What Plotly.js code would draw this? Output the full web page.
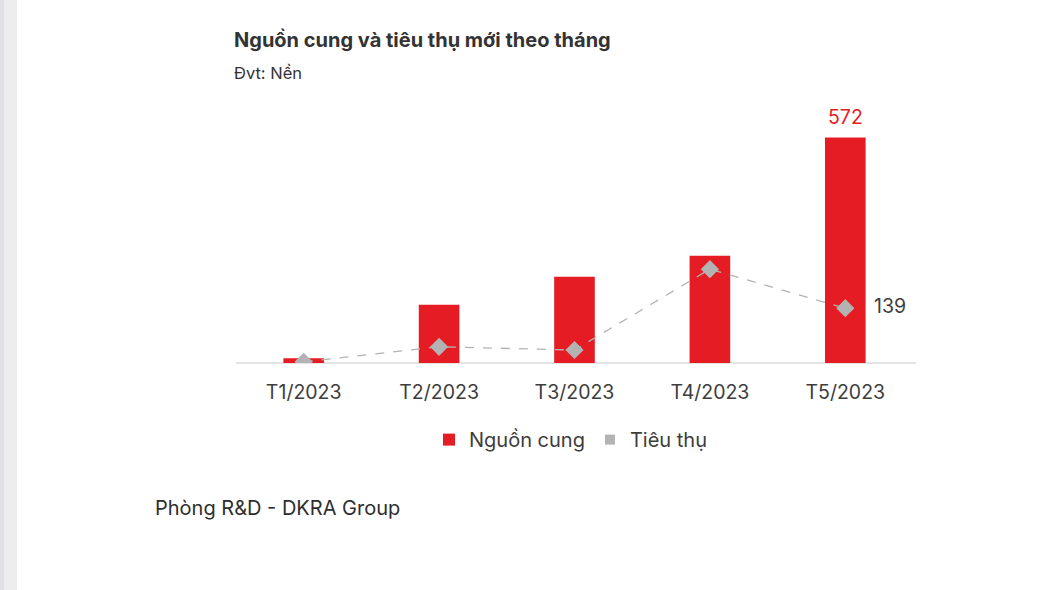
<!DOCTYPE html>
<html>
<head>
<meta charset="utf-8">
<script src="https://cdn.plot.ly/plotly-3.0.1.min.js"></script>
<style>
  html, body { margin: 0; padding: 0; background: #ffffff; }
  #wrap { position: relative; width: 1054px; height: 590px; overflow: hidden; }
  #strip1 { position: absolute; left: 0; top: 0; width: 4px; height: 590px; background: #dfe1e4; z-index: 2; }
  #strip2 { position: absolute; left: 4px; top: 0; width: 13px; height: 590px; background: #ededed; z-index: 2; }
  #chart { position: absolute; left: 0; top: 0; width: 1054px; height: 590px; }
</style>
</head>
<body>
<div id="wrap">
  <div id="chart"></div>
  <div id="strip1"></div>
  <div id="strip2"></div>
</div>
<script>
const categories = ["T1/2023", "T2/2023", "T3/2023", "T4/2023", "T5/2023"];
const supplyValues = [12, 148, 219, 272, 572];
const consumptionValues = [3, 41, 33, 238, 139];
const seriesNames = ["Nguồn cung", "Tiêu thụ"];
const titleText = "Nguồn cung và tiêu thụ mới theo tháng";
const unitText = "Đvt: Nền";
const sourceText = "Phòng R&D - DKRA Group";

const FONT = "Inter, 'Noto Sans', sans-serif";
const RED = "#e61c24";
const GREY = "#b3b3b3";
const TEXT = "#3d3d3d";

const last = categories.length - 1;

// plot area geometry (pixels)
const L = 236, R = 913, T = 100, B = 363.3, W = 1054, H = 590;
const px = x => (x - L) / (R - L);
const py = y => (B - y) / (B - T);

const traces = [
  {
    type: "bar",
    name: seriesNames[0],
    x: categories,
    y: supplyValues,
    marker: { color: RED },
    hoverinfo: "x+y"
  },
  {
    type: "scatter",
    mode: "lines+markers",
    name: seriesNames[1],
    x: categories,
    y: consumptionValues,
    line: { color: GREY, width: 1.3, dash: "dash" },
    marker: { symbol: "diamond", size: 14, color: GREY },
    showlegend: false
  },
  {
    type: "scatter",
    mode: "markers",
    name: seriesNames[1],
    x: [null],
    y: [null],
    marker: { symbol: "square", size: 10, color: GREY },
    showlegend: true,
    hoverinfo: "skip"
  }
];

const layout = {
  width: W,
  height: H,
  margin: { l: L, r: W - R, t: T, b: H - B },
  paper_bgcolor: "#ffffff",
  plot_bgcolor: "#ffffff",
  font: { family: FONT, color: TEXT, size: 19.5 },
  bargap: 0.70,
  showlegend: true,
  legend: {
    orientation: "h",
    x: px(429), xanchor: "left",
    y: py(440), yanchor: "middle",
    font: { size: 20, color: TEXT },
    itemwidth: 30,
    tracegroupgap: 0
  },
  xaxis: {
    type: "category",
    showline: false,
    ticks: "",
    showgrid: false,
    zeroline: false,
    tickfont: { size: 19.5, color: TEXT, family: FONT },
    ticklabelstandoff: 15,
    fixedrange: true
  },
  yaxis: {
    range: [0, 667],
    visible: false,
    showgrid: false,
    zeroline: false,
    fixedrange: true
  },
  shapes: [
    {
      type: "line", xref: "paper", yref: "paper",
      x0: 0, x1: px(916), y0: 0, y1: 0,
      line: { color: "#c9c9c9", width: 1 },
      layer: "below"
    }
  ],
  annotations: [
    {
      xref: "paper", yref: "paper",
      x: px(232), y: py(40), xanchor: "left", yanchor: "middle",
      text: "<b>" + titleText + "</b>",
      showarrow: false,
      font: { size: 20, color: "#333333", family: FONT }
    },
    {
      xref: "paper", yref: "paper",
      x: px(232), y: py(73), xanchor: "left", yanchor: "middle",
      text: unitText,
      showarrow: false,
      font: { size: 16.5, color: "#333333", family: FONT }
    },
    {
      xref: "paper", yref: "paper",
      x: px(153), y: py(508), xanchor: "left", yanchor: "middle",
      text: sourceText,
      showarrow: false,
      font: { size: 20, color: "#2e2e2e", family: FONT }
    },
    {
      x: categories[last], y: supplyValues[last],
      xref: "x", yref: "y",
      text: String(supplyValues[last]),
      showarrow: false,
      yanchor: "bottom",
      yshift: 6,
      font: { size: 19.5, color: RED, family: FONT }
    },
    {
      x: categories[last], y: consumptionValues[last],
      xref: "x", yref: "y",
      text: String(consumptionValues[last]),
      showarrow: false,
      xanchor: "left",
      xshift: 27,
      yshift: 2,
      font: { size: 19.5, color: TEXT, family: FONT }
    }
  ]
};

Plotly.newPlot("chart", traces, layout, { displayModeBar: false, staticPlot: true });
</script>
</body>
</html>
